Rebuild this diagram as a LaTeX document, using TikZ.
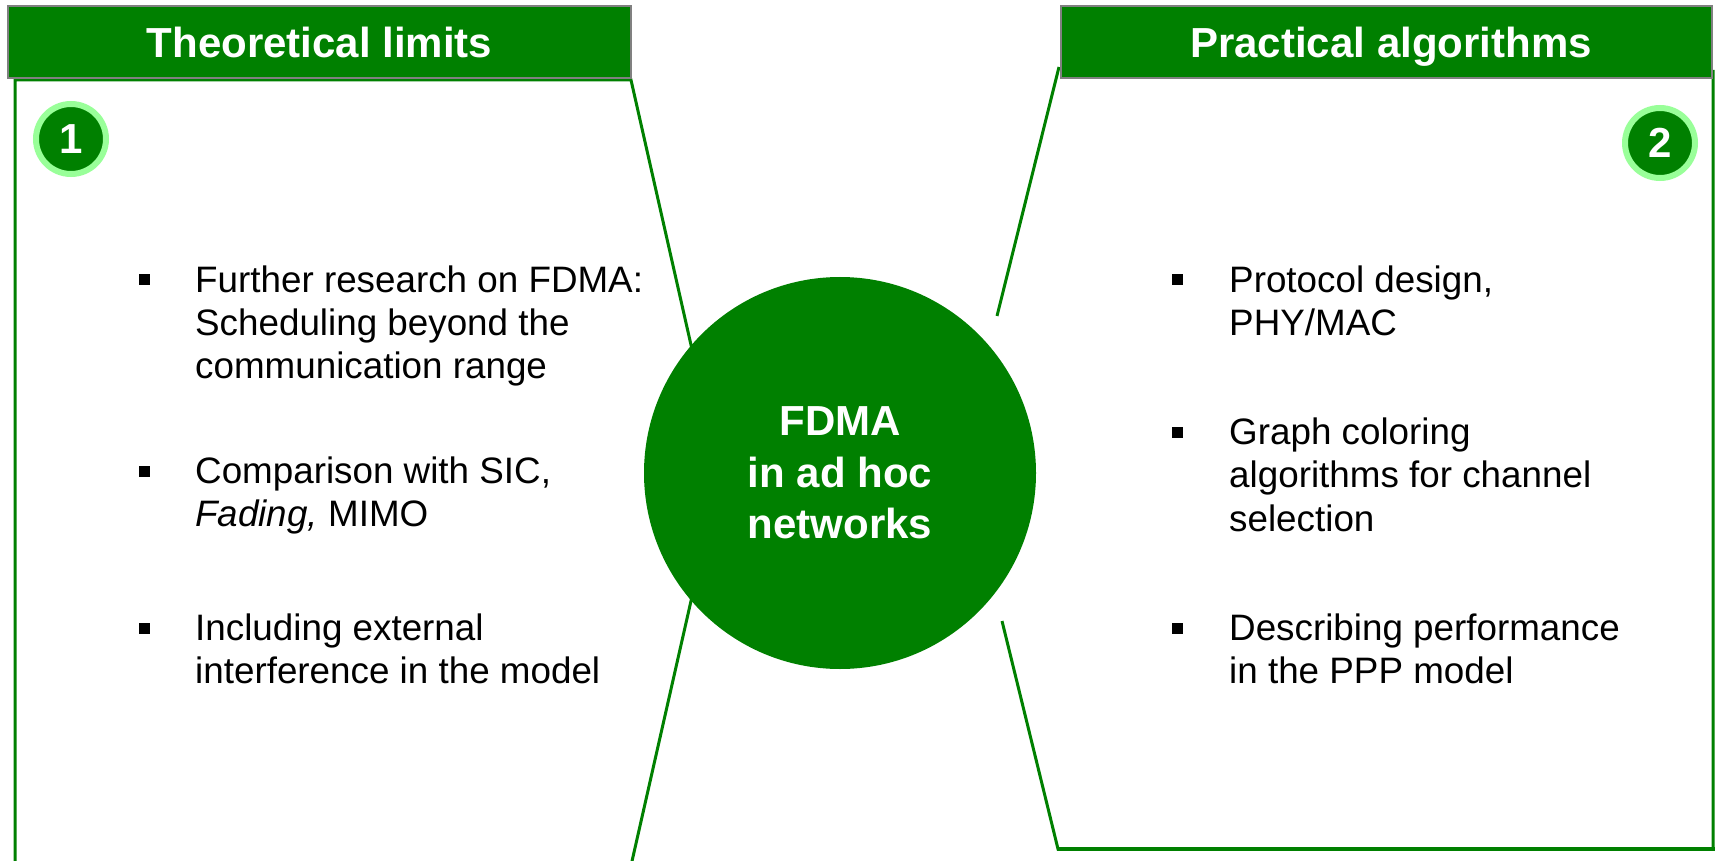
\documentclass[tikz,border=0pt]{standalone}
\usepackage{fontspec}
\setmainfont{Liberation Sans}
\definecolor{leaf}{RGB}{0,128,0}
\definecolor{mint}{RGB}{153,255,153}
\definecolor{rim}{RGB}{128,128,128}
\begin{document}
\begin{tikzpicture}[x=1pt,y=-1pt,
  panel/.style={draw=leaf, line width=3pt, line join=miter},
  hdrbox/.style={rectangle, fill=leaf, draw=rim, line width=1.5pt,
    minimum height=72pt, inner sep=0pt},
  hdrtitle/.style={text=white, inner sep=0pt,
    font=\bfseries\fontsize{42pt}{50pt}\selectfont},
  numbadge/.style={circle, fill=leaf, draw=mint, line width=6pt,
    minimum size=70pt, inner sep=0pt, text=white,
    font=\bfseries\fontsize{42pt}{50pt}\selectfont},
  hub/.style={circle, fill=leaf, minimum size=392pt, inner sep=0pt,
    text=white, align=center,
    font=\bfseries\fontsize{42pt}{51.5pt}\selectfont},
  sqbullet/.style={rectangle, fill=black, minimum size=11pt, inner sep=0pt},
  item/.style={anchor=base west, inner sep=0pt,
    font=\fontsize{36.8pt}{43.5pt}\selectfont}
]
\useasboundingbox (0,0) rectangle (1717,861);

% panel outlines
\draw[panel] (15,870) -- (15,80) -- (631,80) -- (720,473) -- (630,870);
\draw[panel] (1059,67) -- (997,316);
\draw[panel] (1002,621) -- (1058,849) -- (1713,849) -- (1713,70);
\draw[panel, line width=4.5pt] (1057,849) -- (1714.5,849);

% headers
\node[hdrbox, minimum width=623pt] (hdrL) at (319.5,42) {};
\node[hdrtitle, anchor=base] (ttlL) at (319.5,58) {Theoretical limits};
\node[hdrbox, minimum width=651pt] (hdrR) at (1386.5,42) {};
\node[hdrtitle, anchor=base] (ttlR) at (1391,58) {Practical algorithms};

% number badges
\node[numbadge] (n1) at (71,139) {1};
\node[numbadge] (n2) at (1660,143) {2};

% central circle
\node[hub] (hub) at (840,473) {FDMA\\in ad hoc\\networks};

% left column items
\node[sqbullet] (bl1) at (144,280) {};
\node[item] (l1) at (195,292) {\parbox[t]{480pt}{Further research on FDMA:\\Scheduling beyond the\\communication range}};
\node[sqbullet] (bl2) at (144,471) {};
\node[item] (l2) at (195,483) {\parbox[t]{480pt}{Comparison with SIC,\\\textit{Fading,} MIMO}};
\node[sqbullet] (bl3) at (144,628) {};
\node[item] (l3) at (195,640) {\parbox[t]{480pt}{Including external\\interference in the model}};

% right column items
\node[sqbullet] (br1) at (1177,280) {};
\node[item] (r1) at (1229,292) {\parbox[t]{470pt}{Protocol design,\\PHY/MAC}};
\node[sqbullet] (br2) at (1177,432) {};
\node[item] (r2) at (1229,444) {\parbox[t]{470pt}{Graph coloring\\algorithms for channel\\selection}};
\node[sqbullet] (br3) at (1177,628) {};
\node[item] (r3) at (1229,640) {\parbox[t]{470pt}{Describing performance\\in the PPP model}};
\end{tikzpicture}
\end{document}
